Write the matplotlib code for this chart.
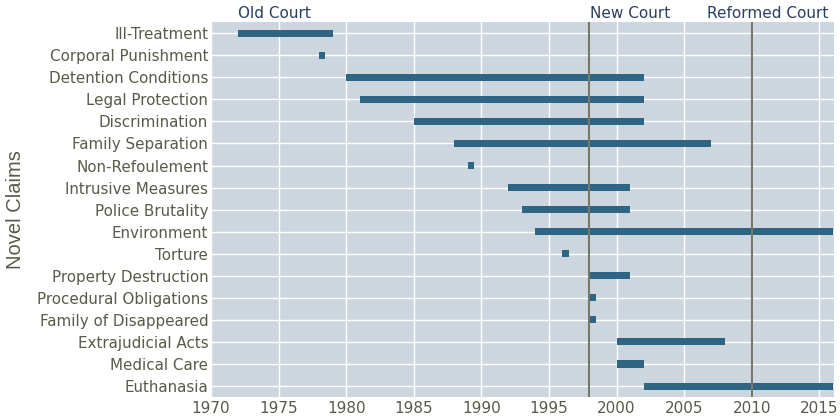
import matplotlib
matplotlib.use("Agg")
import matplotlib.pyplot as plt
import numpy as np

plt.rcParams["font.family"] = ["DejaVu Sans"]

claims = ["Ill-Treatment", "Corporal Punishment", "Detention Conditions", "Legal Protection",
          "Discrimination", "Family Separation", "Non-Refoulement", "Intrusive Measures",
          "Police Brutality", "Environment", "Torture", "Property Destruction",
          "Procedural Obligations", "Family of Disappeared", "Extrajudicial Acts",
          "Medical Care", "Euthanasia"]
start_year = [1972, 1978, 1980, 1981, 1985, 1988, 1989, 1992, 1993, 1994, 1996, 1998,
              1998, 1998, 2000, 2000, 2002]
end_year = [1979, 1978, 2002, 2002, 2002, 2007, 1989, 2001, 2001, 2016, 1996, 2001,
            1998, 1998, 2008, 2002, 2016]
court_years = [1998, 2010]
court_names = ["Old Court", "New Court", "Reformed Court"]
xticks = [1970, 1975, 1980, 1985, 1990, 1995, 2000, 2005, 2010, 2015]

BG = "#cdd6df"
BAR = "#2e6583"
VLINE = "#77776a"
TICK = "#5a5a4a"
ANN = "#2a3f5f"
MIN_W = 0.45

fig = plt.figure(figsize=(8.4, 4.18), dpi=100)
ax = fig.add_axes([0.2512, 0.050, 0.7418, 0.897])
ax.set_facecolor(BG)

y = np.arange(len(claims))
widths = [max(e - s, MIN_W) for s, e in zip(start_year, end_year)]
ax.barh(y, widths, left=start_year, height=0.32, color=BAR, zorder=3)

for cy in court_years:
    ax.axvline(cy, color=VLINE, lw=1.5, zorder=4)

ax.set_xlim(1970, 2016.1)
ax.set_ylim(len(claims) - 0.5, -0.5)
ax.set_yticks(y)
ax.set_yticklabels(claims)
ax.set_xticks(xticks)
ax.grid(True, color="white", lw=1.0, zorder=0)
ax.set_axisbelow(True)
for s in ax.spines.values():
    s.set_visible(False)
ax.tick_params(axis="y", length=0, labelsize=10.9, labelcolor=TICK, pad=2)
ax.tick_params(axis="x", length=0, labelsize=11, labelcolor=TICK, pad=3)
ax.set_ylabel("Novel Claims", fontsize=14.5, color=TICK, family="Liberation Sans")
ax.yaxis.set_label_coords(-0.298, 0.5)

ann_x = [1974.7, 2001.0, 2011.2]
for name, xx in zip(court_names, ann_x):
    ax.text(xx, -0.55, name, transform=ax.transData, ha="center", va="bottom",
            fontsize=11, color=ANN, clip_on=False)

fig.savefig("out.png", dpi=100)
